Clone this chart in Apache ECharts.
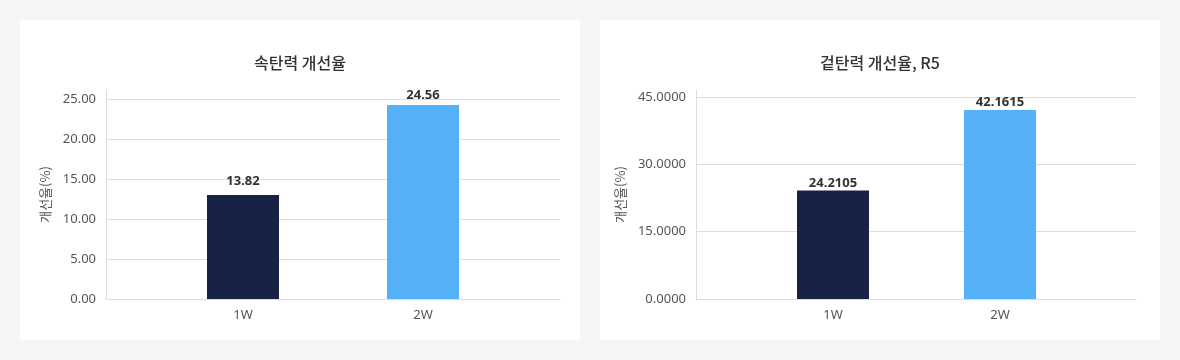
<!DOCTYPE html>
<html>
<head>
<meta charset="utf-8">
<script src="https://cdn.jsdelivr.net/npm/echarts@6/dist/echarts.min.js"></script>
<style>
  html, body { margin: 0; padding: 0; background: #f5f5f5; width: 1180px; height: 360px; overflow: hidden; }
  .panel { position: absolute; top: 20px; width: 560px; height: 320px; background: #ffffff; }
  #c1 { left: 20px; }
  #c2 { left: 600px; }
</style>
</head>
<body>
<div id="c1" class="panel"></div>
<div id="c2" class="panel"></div>
<script>
// ---- data ----
const categories = ['1W', '2W'];
const barColors = ['#172244', '#54b1f8'];

const title1 = '속탄력 개선율';
const barValues1 = [13.05, 24.33];        // bar heights as drawn
const labelValues1 = [13.82, 24.56];      // values shown on labels
const yMax1 = 26.2;
const yInterval1 = 5;
const yDecimals1 = 2;

const title2 = '겉탄력 개선율, R5';
const barValues2 = [24.2105, 42.1615];
const labelValues2 = [24.2105, 42.1615];
const yMax2 = 46.6;
const yInterval2 = 15;
const yDecimals2 = 4;

const yName = '개선율(%)';

const FONT = '"Noto Sans", "Noto Sans CJK KR", sans-serif';
const TITLE_FONT = '"Noto Sans CJK KR", "Noto Sans", sans-serif';

function makeOption(cfg) {
  return {
    animation: false,
    textStyle: { fontFamily: FONT },
    title: {
      text: cfg.title,
      left: 'center',
      top: 30,
      textStyle: { fontFamily: TITLE_FONT, fontSize: 16, fontWeight: 500, color: '#333333' }
    },
    grid: [
      { left: cfg.gridLeft, right: cfg.gridRight, top: 70, bottom: 41, containLabel: false },
      { left: cfg.innerLeft, right: cfg.innerRight, top: 70, bottom: 41, containLabel: false }
    ],
    xAxis: [
      { gridIndex: 0, type: 'category', data: cfg.categories, show: true,
        axisLine: { show: true, lineStyle: { color: '#dddddd' } },
        axisTick: { show: false }, axisLabel: { show: false }, splitLine: { show: false } },
      { gridIndex: 1, type: 'category', data: cfg.categories,
        axisLine: { show: false }, axisTick: { show: false },
        axisLabel: { margin: 10, fontSize: 13, color: '#555555', fontFamily: FONT },
        splitLine: { show: false } }
    ],
    yAxis: [
      { gridIndex: 0, type: 'value', min: 0, max: cfg.yMax, interval: cfg.yInterval,
        name: yName, nameLocation: 'middle', nameGap: cfg.nameGap,
        nameTextStyle: { fontSize: 13, color: '#555555', fontFamily: TITLE_FONT },
        axisLine: { show: true, lineStyle: { color: '#dddddd' } },
        axisTick: { show: false },
        axisLabel: { margin: 10, fontSize: 13, color: '#555555', fontFamily: FONT,
          showMaxLabel: false,
          formatter: (v) => v.toFixed(cfg.decimals) },
        splitLine: { show: true, showMaxLine: false, lineStyle: { color: '#dddddd', width: 1 } } },
      { gridIndex: 1, type: 'value', min: 0, max: cfg.yMax, interval: cfg.yInterval, show: false,
        splitLine: { show: false } }
    ],
    series: [
      { type: 'bar', xAxisIndex: 1, yAxisIndex: 1, barWidth: 72, silent: true,
        data: cfg.barValues.map((v, i) => ({ value: v, itemStyle: { color: barColors[i] } })) },
      { type: 'bar', xAxisIndex: 1, yAxisIndex: 1, barWidth: 72, barGap: '-100%', silent: true,
        itemStyle: { color: 'rgba(0,0,0,0)' },
        label: { show: true, position: 'top', distance: 1, fontSize: 13, fontWeight: 'bold',
          color: '#333333', fontFamily: FONT,
          formatter: (p) => cfg.labelTexts[p.dataIndex] },
        data: cfg.labelValues }
    ]
  };
}

const cfg1 = {
  title: title1, categories, barValues: barValues1, labelValues: labelValues1,
  labelTexts: labelValues1.map(v => v.toFixed(2)),
  yMax: yMax1, yInterval: yInterval1, decimals: yDecimals1,
  gridLeft: 86, gridRight: 20, innerLeft: 133, innerRight: 67, nameGap: 51
};
const cfg2 = {
  title: title2, categories, barValues: barValues2, labelValues: labelValues2,
  labelTexts: labelValues2.map(v => v.toFixed(4)),
  yMax: yMax2, yInterval: yInterval2, decimals: yDecimals2,
  gridLeft: 96, gridRight: 24, innerLeft: 149.5, innerRight: 76.5, nameGap: 55
};

echarts.init(document.getElementById('c1'), null, { renderer: 'canvas' }).setOption(makeOption(cfg1));
echarts.init(document.getElementById('c2'), null, { renderer: 'canvas' }).setOption(makeOption(cfg2));
</script>
</body>
</html>
